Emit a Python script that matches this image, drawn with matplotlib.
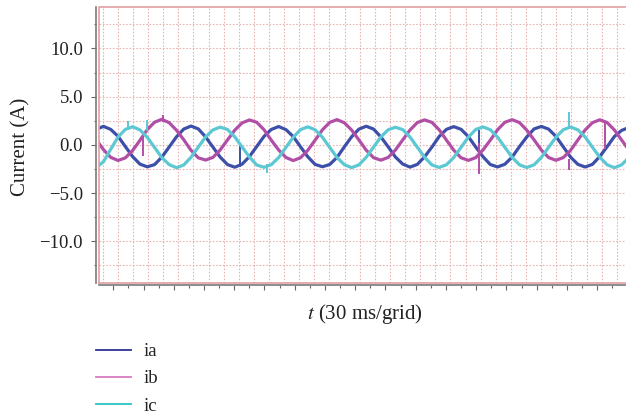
import numpy as np
import matplotlib.pyplot as plt
from matplotlib.ticker import FixedLocator, FuncFormatter, NullFormatter

# sampled phase currents (A), one sample every DT ms starting at T0
T0 = -12.9
DT = 14.48
ia = [1.60,
      1.92, 1.60, 0.88, -0.18, -1.22, -2.00, -2.28, -2.05, -1.27, -0.22, 0.83, 1.64,
      1.95, 1.65, 0.82, -0.24, -1.28, -2.05, -2.32, -2.00, -1.22, -0.17, 0.88, 1.60,
      1.90, 1.58, 0.86, -0.20, -1.24, -2.03, -2.27, -2.04, -1.30, -0.21, 0.84, 1.63,
      1.93, 1.64, 0.83, -0.19, -1.26, -1.99, -2.31, -2.03, -1.24, -0.23, 0.87, 1.61,
      1.89, 1.61, 0.85, -0.22, -1.23, -2.04, -2.29, -2.01, -1.26, -0.18, 0.82, 1.65,
      1.91, 1.63, 0.87, -0.20, -1.27, -2.02, -2.30, -2.02, -1.21, -0.20, 0.86, 1.50,
      1.80]
ib = [0.55,
      -0.50, -1.30, -1.62, -1.35, -0.58, 0.47, 1.58, 2.35, 2.65, 2.30, 1.52, 0.53,
      -0.57, -1.35, -1.58, -1.30, -0.52, 0.52, 1.53, 2.28, 2.58, 2.34, 1.57, 0.48,
      -0.53, -1.31, -1.63, -1.34, -0.56, 0.49, 1.56, 2.33, 2.62, 2.29, 1.54, 0.51,
      -0.55, -1.33, -1.59, -1.31, -0.54, 0.51, 1.54, 2.31, 2.59, 2.33, 1.56, 0.49,
      -0.56, -1.34, -1.61, -1.33, -0.53, 0.48, 1.57, 2.34, 2.61, 2.31, 1.53, 0.52,
      -0.54, -1.32, -1.60, -1.32, -0.57, 0.50, 1.55, 2.30, 2.60, 2.32, 1.55, 0.50,
      -0.55]
ic = [-2.35,
      -1.75, -0.45, 0.82, 1.60, 1.88, 1.55, 0.78, -0.27, -1.32, -2.05, -2.37, -2.09,
      -1.28, -0.22, 0.83, 1.55, 1.84, 1.59, 0.82, -0.23, -1.27, -2.09, -2.33, -2.05,
      -1.32, -0.26, 0.78, 1.58, 1.87, 1.56, 0.79, -0.27, -1.31, -2.06, -2.36, -2.08,
      -1.29, -0.24, 0.81, 1.56, 1.83, 1.58, 0.81, -0.24, -1.29, -2.08, -2.34, -2.06,
      -1.31, -0.25, 0.80, 1.59, 1.86, 1.57, 0.80, -0.26, -1.30, -2.07, -2.35, -2.07,
      -1.30, -0.25, 0.79, 1.57, 1.85, 1.56, 0.81, -0.25, -1.28, -2.06, -2.37, -2.07,
      -1.30]

# switching spikes: time (ms), low, high (A)
ia_spike_t = [272.6, 746.7]
ia_spike_lo = [-2.3, -0.9]
ia_spike_hi = [0.2, 1.5]
ib_spike_t = [80.0, 119.3, 746.7, 925.2, 996.5]
ib_spike_lo = [-1.2, 2.4, -3.0, -2.6, -0.4]
ib_spike_hi = [1.2, 3.1, 0.2, -1.5, 2.5]
ic_spike_t = [50.2, 87.3, 325.6, 925.2]
ic_spike_lo = [1.8, 1.4, -2.9, 1.8]
ic_spike_hi = [2.5, 2.6, -2.0, 3.4]

labels = ['ia', 'ib', 'ic']
line_colors = ['#3d4fa9', '#b14fa7', '#5cc8d3']
legend_colors = ['#2f3192', '#d67bbf', '#2cc3c3']

t = T0 + DT * np.arange(len(ia))

plt.rcParams['font.family'] = ['Liberation Serif', 'DejaVu Serif']
plt.rcParams['mathtext.fontset'] = 'stix'

fig = plt.figure(figsize=(6.26, 4.17), dpi=100)
ax = fig.add_axes([99.3 / 626, 1 - 282.7 / 417, 1 - 99.3 / 626, 275.7 / 417])

grid_c = '#e8b4b4'
for gx in np.arange(0, 1040, 30):
    ax.axvline(gx, color=grid_c, lw=0.8, ls=(0, (1.5, 1.5)), zorder=0)
for gy in np.arange(-12.5, 12.6, 2.5):
    ax.axhline(gy, color=grid_c, lw=0.8, ls=(0, (1.5, 1.5)), zorder=0)

series = [(ia, ia_spike_t, ia_spike_lo, ia_spike_hi),
          (ib, ib_spike_t, ib_spike_lo, ib_spike_hi),
          (ic, ic_spike_t, ic_spike_lo, ic_spike_hi)]
for (vals, st, slo, shi), lab, col in zip(series, labels, line_colors):
    ax.plot(t, vals, color=col, lw=2.3, label=lab, zorder=3)
    ax.vlines(st, slo, shi, colors=col, lw=1.4, zorder=3)

ax.set_xlim(-6.7, 1038.3)
ax.set_ylim(-14.3, 14.3)

# pink frame (left, top, bottom) + grey outer axis lines
frame_c = '#e0a0a0'
ax.plot([0, 0, 1.01], [0, 1, 1], transform=ax.transAxes, color=frame_c, lw=1.2,
        clip_on=False, zorder=4)
ax.plot([0, 1.01], [0, 0], transform=ax.transAxes, color=frame_c, lw=1.2,
        clip_on=False, zorder=4)
for s in ['top', 'right']:
    ax.spines[s].set_visible(False)
ax.spines['left'].set_position(('outward', 2.2))
ax.spines['bottom'].set_position(('outward', 1.3))
for s in ['left', 'bottom']:
    ax.spines[s].set_color('#7a7a7a')
    ax.spines[s].set_linewidth(1.2)

ax.yaxis.set_major_locator(FixedLocator([-10, -5, 0, 5, 10]))
ax.yaxis.set_minor_locator(FixedLocator([-12.5, -7.5, -2.5, 2.5, 7.5, 12.5]))
ax.yaxis.set_major_formatter(FuncFormatter(lambda v, p: f'{v:.1f}'.replace('-', '\u2212')))
ax.xaxis.set_major_locator(FixedLocator(np.arange(21, 1040, 60)))
ax.xaxis.set_minor_locator(FixedLocator(np.arange(51, 1040, 60)))
ax.xaxis.set_major_formatter(NullFormatter())
ax.tick_params(which='major', length=3.5, width=0.8, color='#666666', direction='out')
ax.tick_params(which='minor', length=1.8, width=0.8, color='#666666', direction='out')
ax.tick_params(axis='y', labelsize=13.5, pad=6, labelcolor='#222222')

ax.set_xlabel('$t$ (30 ms/grid)', fontsize=15, color='#222222')
ax.xaxis.set_label_coords(0.5035, -0.070)
ax.set_ylabel('Current (A)', fontsize=15, color='#222222')
ax.yaxis.set_label_coords(-0.131, 0.492)

leg = fig.legend(loc='upper left', bbox_to_anchor=(96 / 626, 1 - 343.0 / 417),
                 frameon=False, fontsize=13.5, handlelength=1.85, handletextpad=0.7,
                 labelspacing=0.54, borderpad=0, borderaxespad=0)
for ln, col in zip(leg.get_lines(), legend_colors):
    ln.set_linewidth(1.3)
    ln.set_color(col)
for txt in leg.get_texts():
    txt.set_color('#222222')

fig.savefig('out.png', dpi=100)
